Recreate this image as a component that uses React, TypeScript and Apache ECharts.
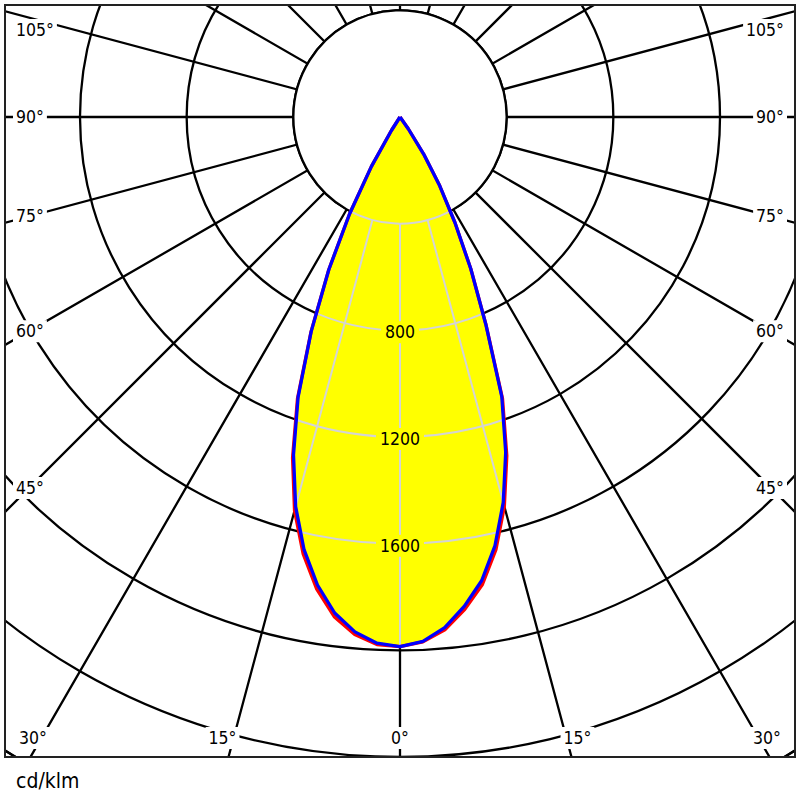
import React, { useEffect, useRef } from 'react';
import * as echarts from 'echarts';

// ---- data ----
const gammaAngles = [0, 2.5, 5, 7.5, 10, 12.5, 15, 17.5, 20, 22.5, 25, 27.5, 30, 32.5, 35, 37.5, 40, 50, 60, 70, 80, 90];
// C90-C270 plane (blue)
const c90Right = [1986, 1968, 1922, 1850, 1765, 1646, 1496, 1318, 1116, 840, 628, 446, 298, 165, 55, 0, 0, 0, 0, 0, 0, 0];
const c270Left = [1986, 1975, 1938, 1876, 1782, 1662, 1512, 1328, 1117, 870, 632, 410, 215, 60, 0, 0, 0, 0, 0, 0, 0, 0];
// C0-C180 plane (red)
const c0Right = [1986, 1970, 1930, 1862, 1780, 1662, 1512, 1332, 1124, 842, 628, 446, 298, 165, 55, 0, 0, 0, 0, 0, 0, 0];
const c180Left = [1986, 1980, 1948, 1890, 1798, 1678, 1528, 1340, 1124, 872, 632, 410, 215, 60, 0, 0, 0, 0, 0, 0, 0, 0];

const gridValues = [400, 800, 1200, 1600, 2000, 2400, 2800];
const ringLabels = [800, 1200, 1600];
const angleLabels = [0, 15, 30, 45, 60, 75, 90, 105];
const unitLabel = 'cd/klm';

// ---- layout ----
const CX = 400;
const CY = 117;
const R_MAX = 2800;
const PX_PER_CD = 106.67 / 400;
const FRAME = { l: 5, t: 5, r: 795, b: 757 };
const FONT = '"DejaVu Sans Condensed", "DejaVu Sans", sans-serif';
const GRID_W = 2.3;

function curve(left: number[], right: number[]) {
  const pts: number[][] = [];
  for (let i = gammaAngles.length - 1; i >= 0; i--) pts.push([left[i], gammaAngles[i]]);
  for (let i = 1; i < gammaAngles.length; i++) pts.push([right[i], -gammaAngles[i]]);
  return pts;
}

const redCurve = curve(c180Left, c0Right);
const blueCurve = curve(c270Left, c90Right);

function degLabels() {
  const items: any[] = [];
  const rad = Math.PI / 180;
  angleLabels.forEach((g) => {
    const text = g + '°';
    const base = {
      type: 'text',
      z: 120,
      style: {
        text,
        font: '17.5px ' + FONT,
        fill: '#000',
        backgroundColor: '#fff',
        padding: [2, 3],
        textVerticalAlign: 'middle',
        verticalAlign: 'middle',
      },
    };
    if (g >= 45) {
      const t = (CX - 29) / Math.sin(g * rad);
      let y = CY + t * Math.cos(g * rad);
      y = Math.max(y, 30);
      items.push({ ...base, x: 13, y, style: { ...base.style, textAlign: 'left', align: 'left' } });
      items.push({ ...base, x: 787, y, style: { ...base.style, textAlign: 'right', align: 'right' } });
    } else {
      const dx = (FRAME.b - CY) * Math.tan(g * rad);
      if (g === 0) {
        items.push({ ...base, x: CX, y: 738, style: { ...base.style, textAlign: 'center', align: 'center' } });
      } else {
        const xl = Math.max(CX - dx - 6, 33);
        const xr = Math.min(CX + dx + 6, 767);
        items.push({ ...base, x: xl, y: 738, style: { ...base.style, textAlign: 'center', align: 'center' } });
        items.push({ ...base, x: xr, y: 738, style: { ...base.style, textAlign: 'center', align: 'center' } });
      }
    }
  });
  return items;
}

function renderFill(params: any, api: any) {
  const c = api.coord([0, 0]);
  const rpx = (v: number) => {
    const p = api.coord([v, 0]);
    return Math.hypot(p[0] - c[0], p[1] - c[1]);
  };
  const toPts = (pts: number[][]) => pts.map((p) => api.coord(p));
  const redPts = toPts(redCurve);
  const bluePts = toPts(blueCurve);
  const grey: any[] = [];
  gridValues.forEach((v) => {
    grey.push({
      type: 'circle',
      shape: { cx: c[0], cy: c[1], r: rpx(v) },
      style: { fill: 'none', stroke: '#d4d4d4', lineWidth: 2 },
    });
  });
  for (let a = -180; a < 180; a += 15) {
    const p1 = api.coord([gridValues[0], a]);
    const p2 = api.coord([R_MAX, a]);
    grey.push({
      type: 'line',
      shape: { x1: p1[0], y1: p1[1], x2: p2[0], y2: p2[1] },
      style: { stroke: '#d4d4d4', lineWidth: 2 },
    });
  }
  const labels = ringLabels.map((v) => {
    const p = api.coord([v, 0]);
    return {
      type: 'text',
      x: p[0],
      y: p[1] + 2,
      style: {
        text: String(v),
        font: '17.5px ' + FONT,
        fill: '#000',
        textAlign: 'center',
        align: 'center',
        textVerticalAlign: 'middle',
        verticalAlign: 'middle',
        backgroundColor: '#ffff00',
        padding: [2, 4],
      },
    };
  });
  return {
    type: 'group',
    children: [
      {
        type: 'circle',
        shape: { cx: c[0], cy: c[1], r: rpx(gridValues[0]) },
        style: { fill: '#fff', stroke: '#000', lineWidth: GRID_W },
      },
      { type: 'polygon', shape: { points: redPts }, style: { fill: '#ffff00' } },
      { type: 'polygon', shape: { points: bluePts }, style: { fill: '#ffff00' } },
      {
        type: 'group',
        clipPath: { type: 'polygon', shape: { points: redPts } },
        children: grey,
      },
      ...labels,
    ],
  };
}

export default function App() {
  const ref = useRef<HTMLDivElement>(null);
  useEffect(() => {
    const chart = echarts.init(ref.current!, null, { renderer: 'svg' });
    const option: any = {
      animation: false,
      backgroundColor: '#fff',
      polar: { center: [CX, CY], radius: R_MAX * PX_PER_CD },
      angleAxis: {
        type: 'value',
        min: -180,
        max: 180,
        interval: 15,
        startAngle: 90,
        clockwise: true,
        axisLine: { show: true, lineStyle: { color: '#000', width: GRID_W } },
        axisTick: { show: false },
        axisLabel: { show: false },
        splitLine: { show: true, lineStyle: { color: '#000', width: GRID_W } },
      },
      radiusAxis: {
        type: 'value',
        min: 0,
        max: R_MAX,
        interval: 400,
        axisLine: { show: false },
        axisTick: { show: false },
        axisLabel: { show: false },
        splitLine: { show: true, lineStyle: { color: '#000', width: GRID_W } },
      },
      series: [
        {
          type: 'custom',
          coordinateSystem: 'polar',
          data: [[0, 0]],
          renderItem: renderFill,
          silent: true,
          z: 2,
        },
        {
          type: 'line',
          name: 'C0-C180',
          coordinateSystem: 'polar',
          data: redCurve,
          showSymbol: false,
          symbol: 'none',
          lineStyle: { color: '#ff0000', width: 3.3 },
          z: 5,
        },
        {
          type: 'line',
          name: 'C90-C270',
          coordinateSystem: 'polar',
          data: blueCurve,
          showSymbol: false,
          symbol: 'none',
          lineStyle: { color: '#0000ff', width: 3.3 },
          z: 6,
        },
      ],
      graphic: [
        { type: 'rect', z: 100, shape: { x: 0, y: 0, width: 800, height: FRAME.t }, style: { fill: '#fff' } },
        { type: 'rect', z: 100, shape: { x: 0, y: 0, width: FRAME.l, height: 800 }, style: { fill: '#fff' } },
        { type: 'rect', z: 100, shape: { x: FRAME.r, y: 0, width: 800 - FRAME.r, height: 800 }, style: { fill: '#fff' } },
        { type: 'rect', z: 100, shape: { x: 0, y: FRAME.b, width: 800, height: 800 - FRAME.b }, style: { fill: '#fff' } },
        {
          type: 'rect',
          z: 110,
          shape: { x: FRAME.l, y: FRAME.t, width: FRAME.r - FRAME.l, height: FRAME.b - FRAME.t },
          style: { fill: 'none', stroke: '#222', lineWidth: 2 },
        },
        ...degLabels(),
        {
          type: 'text',
          z: 120,
          x: 16,
          y: 781,
          style: {
            text: unitLabel,
            font: '21px ' + FONT,
            fill: '#000',
            textAlign: 'left',
            align: 'left',
            textVerticalAlign: 'middle',
            verticalAlign: 'middle',
          },
        },
      ],
    };
    chart.setOption(option);
    return () => chart.dispose();
  }, []);
  return (
    <div
      ref={ref}
      style={{ position: 'absolute', left: 0, top: 0, width: 800, height: 800, background: '#fff' }}
    />
  );
}
